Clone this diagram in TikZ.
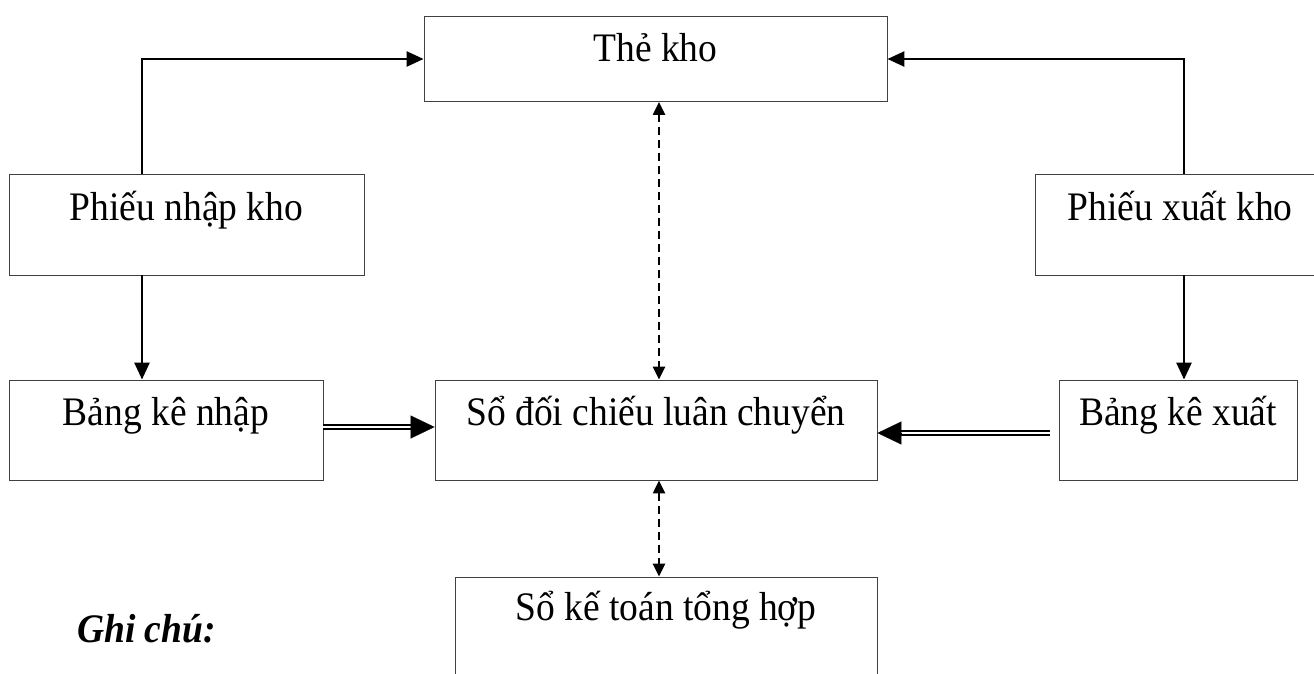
\documentclass[tikz,border=0pt]{standalone}
\usepackage{graphicx}
\usepackage{fontspec}
\setmainfont{Liberation Serif}
\usetikzlibrary{arrows.meta}
\newcommand\vtall[1]{\scalebox{1}[1.08]{#1}}
\begin{document}
\begin{tikzpicture}[x=1pt,y=-1pt,
  box/.style={draw=black!75, line width=0.9pt, inner sep=0pt, font=\fontsize{37.5}{44}\selectfont, anchor=base},
  arr/.style={line width=2.6pt, -{Triangle[length=17pt,width=15pt]}},
  darr/.style={line width=2.4pt, dash pattern=on 8pt off 5pt, {Triangle[length=13pt,width=12pt]}-{Triangle[length=13pt,width=12pt]}},
  dbl/.style={double, line width=2.5pt, double distance=1.8pt},
  bigtip/.style={-{Triangle[length=24pt,width=23pt]}, line width=0.1pt}]
\useasboundingbox (0,0) rectangle (1314,673);
\clip (0,0) rectangle (1314,673);
\node[box, minimum width=463pt, text height=45pt, text depth=40pt] (tk) at (655.5,61.5) {\vtall{Thẻ kho}};
\node[box, minimum width=355pt, text height=46pt, text depth=55pt] (pn) at (186.5,220) {\vtall{Phiếu nhập kho}};
\node[box, minimum width=290pt, text height=46pt, text depth=55pt] (px) at (1180,220) {\vtall{Phiếu xuất kho}};
\node[box, minimum width=314pt, text height=45pt, text depth=55pt] (bkn) at (166,425) {\vtall{Bảng kê nhập}};
\node[box, minimum width=442pt, text height=45pt, text depth=55pt] (sdc) at (656,425) {\vtall{Sổ đối chiếu luân chuyển}};
\node[box, minimum width=238pt, text height=45pt, text depth=55pt] (bkx) at (1178,425) {\vtall{Bảng kê xuất}};
\node[box, minimum width=422pt, text height=43pt, text depth=80pt] (skt) at (666,620) {\vtall{Sổ kế toán tổng hợp}};
\node[font=\fontsize{37.5}{44}\selectfont\bfseries\itshape, anchor=base west, inner sep=0pt] (gc) at (77,642) {\vtall{Ghi chú:}};
\coordinate (xl) at (142,0);
\coordinate (xr) at (1184,0);
\coordinate (xm) at (659,0);
\draw[arr] (pn.north -| xl) |- (tk.west);
\draw[arr] (px.north -| xr) |- (tk.east);
\draw[arr] (pn.south -| xl) -- (bkn.north -| xl);
\draw[arr] (px.south -| xr) -- (bkx.north -| xr);
\draw[darr] (tk.south -| xm) -- (sdc.north -| xm);
\draw[darr] (sdc.south -| xm) -- (skt.north -| xm);
\draw[dbl] ([yshift=3pt]bkn.east) -- ([shift={(-20pt,3pt)}]sdc.west);
\draw[bigtip] ([shift={(-24pt,3pt)}]sdc.west) -- ([yshift=3pt]sdc.west);
\draw[dbl] ([shift={(-9pt,-3pt)}]bkx.west) -- ([shift={(20pt,-3pt)}]sdc.east);
\draw[bigtip] ([shift={(24pt,-3pt)}]sdc.east) -- ([yshift=-3pt]sdc.east);
\end{tikzpicture}
\end{document}
